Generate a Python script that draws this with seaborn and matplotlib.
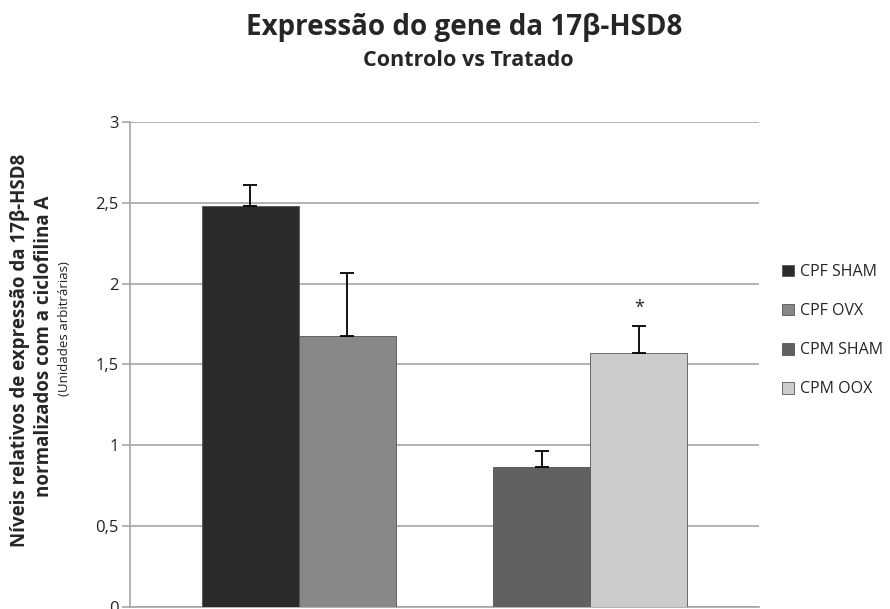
import matplotlib
matplotlib.use("Agg")
import matplotlib.pyplot as plt
import seaborn as sns
import pandas as pd
from matplotlib.ticker import FuncFormatter

# Data
grupos = ["CPF SHAM", "CPF OVX", "CPM SHAM", "CPM OOX"]
valores = [2.48, 1.675, 0.866, 1.57]
erros = [0.13, 0.39, 0.10, 0.165]
significativo = [False, False, False, True]
cores = ["#2b2b2b", "#888888", "#616161", "#cccccc"]

# empty slot between the two pairs of bars
ordem = ["CPF SHAM", "CPF OVX", " ", "CPM SHAM", "CPM OOX"]

df = pd.DataFrame({"grupo": grupos, "valor": valores})

sns.set_theme(style="white")
plt.rcParams["font.family"] = ["Open Sans", "DejaVu Sans"]

fig = plt.figure(figsize=(8.9, 6.09), dpi=100)
ax = fig.add_axes([0.1466, 0.0033, 0.7066, 0.7964])

sns.barplot(data=df, x="grupo", y="valor", hue="grupo", order=ordem,
            hue_order=grupos, palette=cores, width=1.0, ax=ax,
            edgecolor="#555555", linewidth=0.6, legend=True, zorder=3)

# error bars (plus direction only) and significance mark
for cont, err, sig in zip(ax.containers, erros, significativo):
    for bar in cont:
        h = bar.get_height()
        if h != h:  # nan
            continue
        xc = bar.get_x() + bar.get_width() / 2
        ax.errorbar(xc, h, yerr=[[0], [err]], fmt="none", ecolor="black",
                    elinewidth=1.3, capsize=5, capthick=1.3, zorder=4)
        if sig:
            ax.text(xc, h + err + 0.06, "*", ha="center", va="bottom",
                    fontsize=13, color="#222222")

ax.set_ylim(0, 3)
ax.set_xlim(-1.233, 5.24)
ax.set_yticks([0, 0.5, 1, 1.5, 2, 2.5, 3])
ax.yaxis.set_major_formatter(FuncFormatter(lambda v, p: f"{v:g}".replace(".", ",")))
ax.yaxis.grid(True, color="#a6a6a6", linewidth=1.2, zorder=0)
ax.set_axisbelow(True)
ax.set_xticks([])
ax.set_xlabel("")
ax.set_ylabel("")
for s in ["top", "right"]:
    ax.spines[s].set_visible(False)
for s in ["left", "bottom"]:
    ax.spines[s].set_color("#a6a6a6")
    ax.spines[s].set_linewidth(1.2)
ax.tick_params(axis="y", left=True, length=6, width=1.2, color="#a6a6a6",
               labelsize=12, labelcolor="#222222", pad=2.5)

# legend on the right
handles, labels = ax.get_legend_handles_labels()
ax.get_legend().remove()
fig.legend(handles, labels, loc="center left", bbox_to_anchor=(0.862, 0.457),
           frameon=False, fontsize=11.5, handlelength=0.75, handleheight=0.75,
           handletextpad=0.4, labelspacing=1.45)

# titles
fig.text(0.522, 0.955, "Expressão do gene da 17β-HSD8", ha="center", va="center",
         fontsize=20, fontweight="bold")
fig.text(0.526, 0.9, "Controlo vs Tratado", ha="center", va="center",
         fontsize=15.5, fontweight="bold")

# y axis label, three lines
fig.text(0.023, 0.424, "Níveis relativos de expressão da 17β-HSD8", rotation=90,
         ha="center", va="center", fontsize=13.5, fontweight="bold")
fig.text(0.049, 0.432, "normalizados com a ciclofilina A", rotation=90,
         ha="center", va="center", fontsize=13.5, fontweight="bold")
fig.text(0.072, 0.46, "(Unidades arbitrárias)", rotation=90,
         ha="center", va="center", fontsize=9.5, color="#222222")

fig.savefig("out.png", dpi=100)
